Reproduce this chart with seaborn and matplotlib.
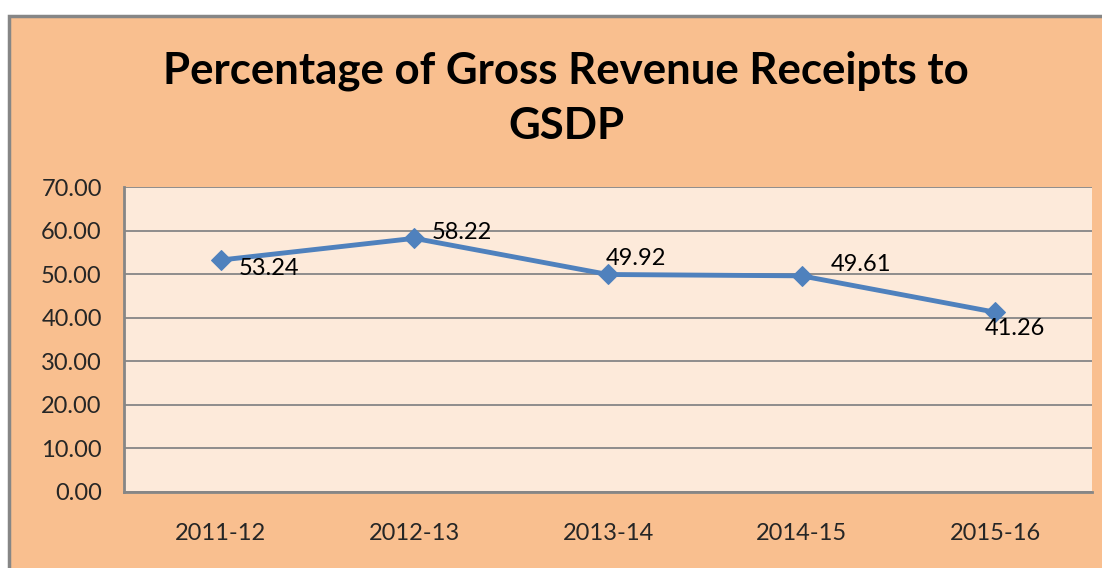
import matplotlib
matplotlib.use('Agg')
import matplotlib.pyplot as plt
import seaborn as sns
import pandas as pd
from matplotlib.patches import Rectangle

years = ['2011-12', '2012-13', '2013-14', '2014-15', '2015-16']
pct = [53.24, 58.22, 49.92, 49.61, 41.26]
# label placement per point (dx, dy in points)
offsets = [(35, -6), (34, 4), (20, 11.5), (43, 8), (14, -11.5)]

df = pd.DataFrame({'Year': years, 'Pct': pct})

sns.set_theme(style='white')
plt.rcParams['font.family'] = ['Lato', 'DejaVu Sans']

fig = plt.figure(figsize=(11.02, 5.68), dpi=100)
fig.patch.set_facecolor('white')
# chart area with gray border, kept behind the axes
fig.patches.append(Rectangle((9 / 1102, -0.01), 1.02, 1 - 16 / 568 + 0.01,
                             transform=fig.transFigure, facecolor='#F9BF8F',
                             edgecolor='#868686', linewidth=2.5, zorder=-10))

ax = fig.add_axes([124 / 1102, 1 - 492 / 568, (1092 - 124) / 1102, (492 - 187) / 568])
ax.set_facecolor('#FDEADA')

sns.lineplot(data=df, x='Year', y='Pct', ax=ax, color='#4F81BD', linewidth=3.5,
             marker='D', markersize=10, markeredgecolor='#4F81BD', sort=False)

for i, v in enumerate(pct):
    dx, dy = offsets[i]
    ax.annotate(f'{v:.2f}', (i, v), xytext=(dx, dy), textcoords='offset points',
                ha='center', va='center', fontsize=17, color='black')

ax.set_ylim(0, 70)
ax.set_yticks(range(0, 71, 10))
ax.set_yticklabels([f'{t:.2f}' for t in range(0, 71, 10)], fontsize=17)
ax.set_xlim(-0.5, 4.5)
ax.tick_params(axis='x', labelsize=17, length=0, pad=22)
ax.tick_params(axis='y', length=0, pad=16)
ax.yaxis.grid(True, color='#868686', linewidth=1.3)
ax.set_axisbelow(True)
ax.set_xlabel('')
ax.set_ylabel('')
for s in ['top', 'right']:
    ax.spines[s].set_visible(False)
for s in ['left', 'bottom']:
    ax.spines[s].set_color('#868686')
    ax.spines[s].set_linewidth(2)

fig.text(566 / 1102, 1 - 98 / 568, 'Percentage of Gross Revenue Receipts to\nGSDP',
         ha='center', va='center', fontsize=31.5, fontweight='bold',
         linespacing=1.45, color='black')

fig.savefig('out.png', dpi=100, facecolor=fig.get_facecolor())
